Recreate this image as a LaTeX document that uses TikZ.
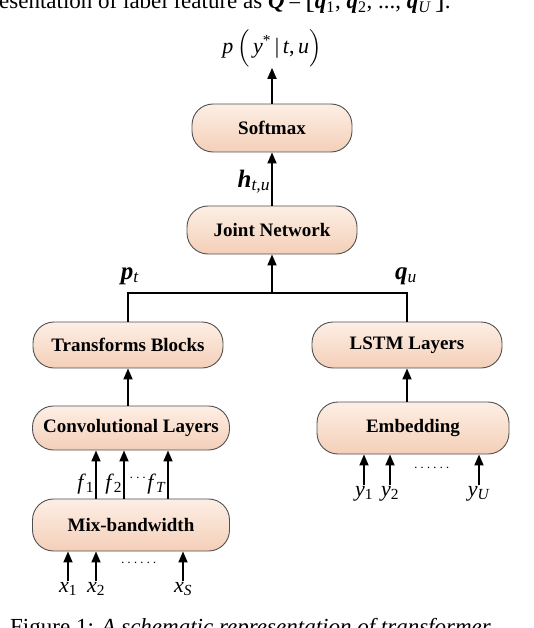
\documentclass[tikz,border=0pt]{standalone}
\usepackage{amsmath}
\usepackage{fontspec}
\setmainfont{Liberation Serif}
\usepackage{tikz}
\usetikzlibrary{arrows.meta, positioning, calc}
\definecolor{blocktop}{RGB}{253, 239, 229}
\definecolor{blockbot}{RGB}{244, 207, 184}
\definecolor{blockline}{RGB}{80, 80, 80}
\newcommand{\bvec}[1]{\textbf{\textit{#1}}}
\newcommand{\ivar}[1]{\textit{#1}}

\begin{document}
\begin{tikzpicture}[x=1pt, y=-1pt,
  block/.style={rectangle, rounded corners=21pt, draw=blockline, line width=0.9pt,
    top color=blocktop, bottom color=blockbot, minimum height=48pt,
    font=\fontsize{19}{22}\selectfont\bfseries},
  feed/.style={-{Triangle[length=11pt, width=9pt]}, line width=1.8pt},
  wire/.style={line width=1.8pt},
  lbl/.style={font=\fontsize{22}{25}\selectfont, inner sep=1pt},
  blbl/.style={font=\fontsize{25}{28}\selectfont, inner sep=1pt},
  txt/.style={font=\fontsize{23}{26}\selectfont, inner sep=0pt}]
\useasboundingbox (0,0) rectangle (534,628);
\clip (0,0) rectangle (534,628);

% surrounding text of the page
\node[txt, anchor=base west] (pagetop) at (-1,9) {esentation of label feature as \bvec{Q}\,=\,{\fontsize{29}{29}\selectfont[}\bvec{q}\textsubscript{1}, \bvec{q}\textsubscript{2}, ..., \bvec{q}\textsubscript{\textit{U}}\,{\fontsize{29}{29}\selectfont]}.};
\node[txt, anchor=base west] (caption) at (10,634) {Figure 1: \textit{A schematic representation of transformer}};

% Output side
\node[block, minimum width=160pt] (softmax) at (272,128) {Softmax};
\node[block, minimum width=170pt] (joint) at (272,230) {Joint Network};
\node[lbl] (prob) at (272,48) {\ivar{p}\,$\Bigl($\,\ivar{y}\textsuperscript{*}\,|\,\ivar{t},\,\ivar{u}$\Bigr)$};

% Acoustic branch
\node[block, minimum width=190pt, minimum height=46pt] (trans) at (128,345) {Transforms Blocks};
\node[block, minimum width=197pt, minimum height=44pt] (conv) at (131,428) {Convolutional Layers};
\node[block, minimum width=197pt, minimum height=52pt] (mix) at (131,525) {Mix-bandwidth};

% Label branch
\node[block, minimum width=190pt, minimum height=46pt] (lstm) at (407,345) {LSTM Layers};
\node[block, minimum width=192pt, minimum height=52pt] (embed) at (413,428) {Embedding};

% Joint combination
\coordinate (junc) at (272,293);
\draw[wire] (trans.north) |- (junc) -| (lstm.north);
\draw[feed] (junc) -- (joint.south);
\node[blbl] (pt) at (130,276) {\bvec{p}\textsubscript{\textit{t}}};
\node[blbl] (qu) at (406,276) {\bvec{q}\textsubscript{\textit{u}}};

\draw[feed] (joint.north) -- node[blbl, left, pos=0.45] (htu) {\bvec{h}\textsubscript{\textit{t,u}}} (softmax.south);
\draw[feed] (softmax.north) -- (softmax.north |- prob.south);

\draw[feed] (conv.north -| trans.south) -- (trans.south);
\draw[feed] (embed.north -| lstm.south) -- (lstm.south);

% Frames into the convolutional layers
\coordinate (f1) at (96,525);
\coordinate (f2) at (124,525);
\coordinate (fT) at (168,525);
\draw[feed] (f1 |- mix.north) -- node[lbl, left, pos=0.3] (f1lbl) {\ivar{f}\textsubscript{1}} (f1 |- conv.south);
\draw[feed] (f2 |- mix.north) -- node[lbl, left, pos=0.3] (f2lbl) {\ivar{f}\textsubscript{2}} (f2 |- conv.south);
\draw[feed] (fT |- mix.north) -- node[lbl, left, pos=0.3] (fTlbl) {\ivar{f}\textsubscript{\textit{T}}} (fT |- conv.south);
\node[lbl, font=\fontsize{14}{16}\selectfont] (fdots) at (139,478) {$\cdots$};

% Input samples
\node[lbl] (x1) at (68,589) {\ivar{x}\textsubscript{1}};
\node[lbl] (x2) at (96,589) {\ivar{x}\textsubscript{2}};
\node[lbl] (xS) at (183,589) {\ivar{x}\textsubscript{\textit{S}}};
\foreach \n in {x1,x2,xS}
  \draw[feed] (\n.north) -- (\n.north |- mix.south);
\node[lbl, font=\fontsize{14}{16}\selectfont] (xdots) at (140,563) {$\cdots\cdots$};

% Label tokens
\node[lbl] (y1) at (364,494) {\ivar{y}\textsubscript{1}};
\node[lbl] (y2) at (390,494) {\ivar{y}\textsubscript{2}};
\node[lbl] (yU) at (479,494) {\ivar{y}\textsubscript{\textit{U}}};
\foreach \n in {y1,y2,yU}
  \draw[feed] (\n.north) -- (\n.north |- embed.south);
\node[lbl, font=\fontsize{14}{16}\selectfont] (ydots) at (433,468) {$\cdots\cdots$};
\end{tikzpicture}
\end{document}
